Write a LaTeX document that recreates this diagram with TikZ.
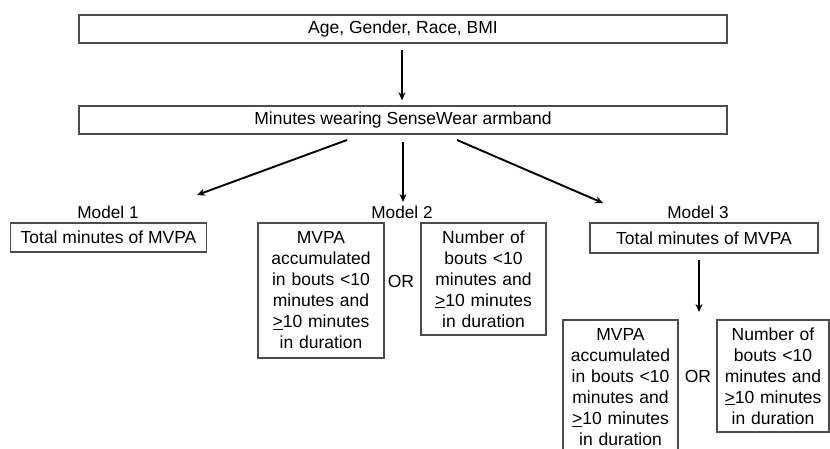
\documentclass[tikz,border=0pt]{standalone}
\usepackage{fontspec}
\setmainfont{Liberation Sans}
\usetikzlibrary{arrows.meta,calc}
\begin{document}
\begin{tikzpicture}[x=1pt,y=-1pt,
  box/.style={draw=black!70, line width=1.4pt, inner sep=0pt, align=center,
    font=\fontsize{17.5}{21}\selectfont},
  lbl/.style={inner sep=0pt, font=\fontsize{17.2}{21}\selectfont},
  arr/.style={line width=1.9pt, -{Stealth[length=8pt,width=7pt]}}]
\path[use as bounding box, clip] (0,0) rectangle (830,448);
% top boxes
\node[box, minimum width=648pt, minimum height=28pt] (top) at (403,29) {Age, Gender, Race, BMI};
\node[box, minimum width=648pt, minimum height=28pt] (mid) at (403,120) {Minutes wearing SenseWear armband};
\draw[arr, shorten <=6pt, shorten >=5pt] (top.south -| 402,0) -- (mid.north -| 402,0);
% arrow end points
\coordinate (a1s) at (347,140); \coordinate (a1e) at (197,195);
\coordinate (a2s) at (403,142); \coordinate (a2e) at (403,202);
\coordinate (a3s) at (457,140); \coordinate (a3e) at (603,203);
\draw[arr] (a1s) -- (a1e);
\draw[arr] (a2s) -- (a2e);
\draw[arr] (a3s) -- (a3e);
% model labels
\node[lbl] (m1) at (108,212) {Model 1};
\node[lbl] (m2) at (402,212) {Model 2};
\node[lbl] (m3) at (698,212) {Model 3};
% model 1
\node[box, minimum width=196pt, minimum height=29pt] (b1) at (108.5,237.5) {Total minutes of MVPA};
% model 2
\node[box, text width=126pt, minimum height=135pt] (b2a) at (321,290.5)
  {MVPA\\accumulated\\in bouts <10\\minutes and\\\underline{>}10 minutes\\in duration};
\node[lbl, font=\fontsize{17.5}{21}\selectfont] (or2) at (401,281) {OR};
\node[box, text width=125pt, minimum height=112pt] (b2b) at (483.5,279)
  {Number of\\bouts <10\\minutes and\\\underline{>}10 minutes\\in duration};
% model 3
\node[box, minimum width=228pt, minimum height=30pt] (b3) at (704,238) {Total minutes of MVPA};
\coordinate (a4s) at (699,260); \coordinate (a4e) at (699,312);
\draw[arr] (a4s) -- (a4e);
\node[box, text width=115pt, minimum height=135pt] (b3a) at (620.5,387.5)
  {MVPA\\accumulated\\in bouts <10\\minutes and\\\underline{>}10 minutes\\in duration};
\node[lbl, font=\fontsize{17.5}{21}\selectfont] (or3) at (698,376) {OR};
\node[box, text width=112pt, minimum height=112pt] (b3b) at (773,376)
  {Number of\\bouts <10\\minutes and\\\underline{>}10 minutes\\in duration};
\end{tikzpicture}
\end{document}
